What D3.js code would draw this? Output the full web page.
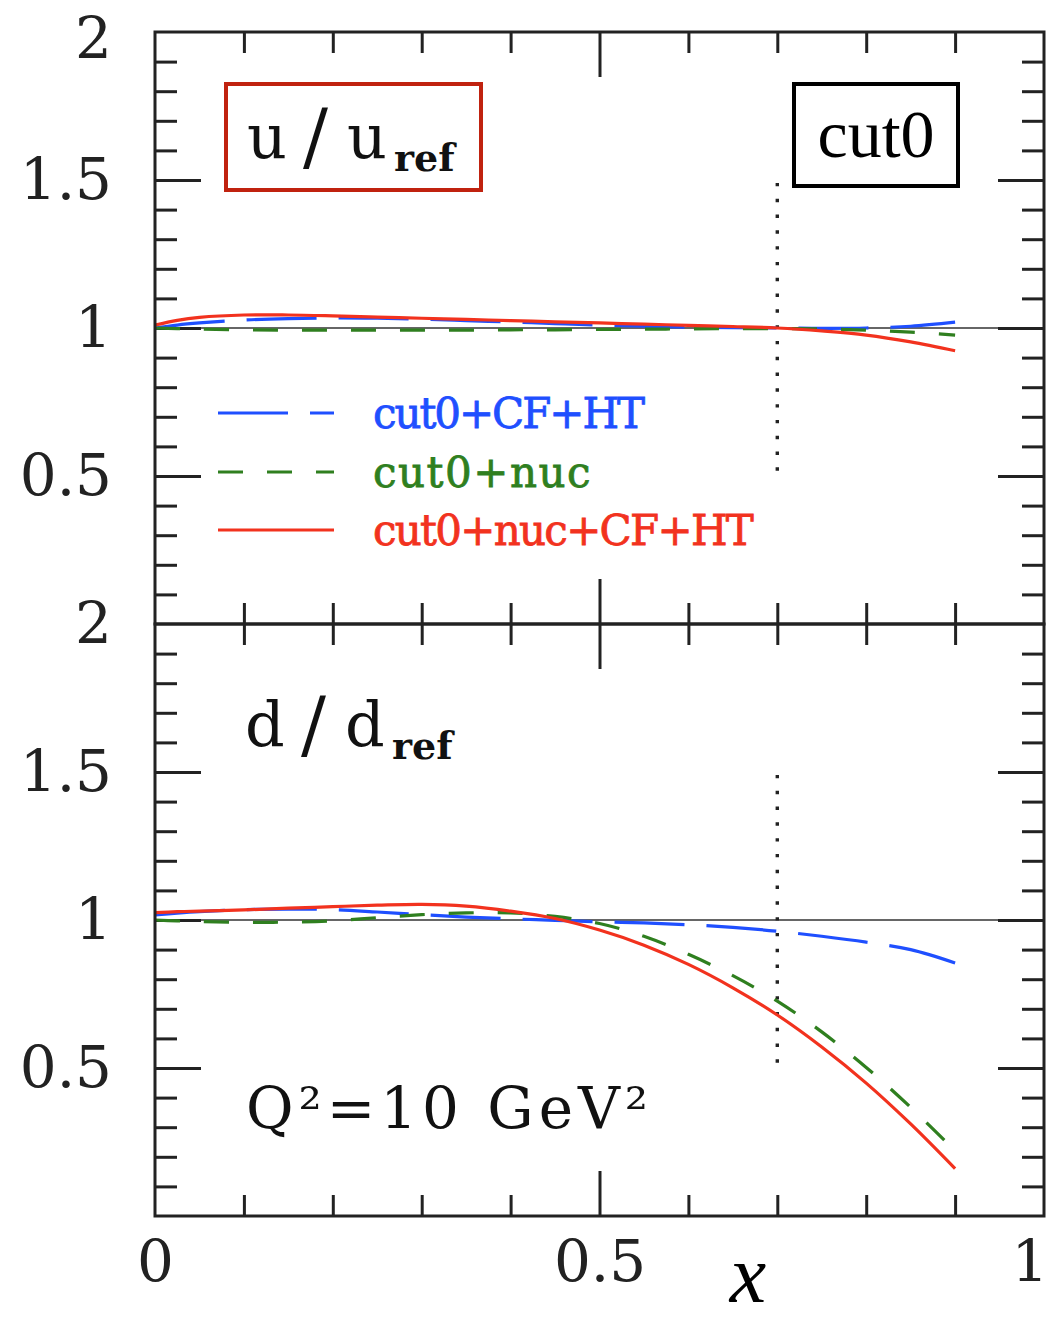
<!DOCTYPE html>
<html>
<head>
<meta charset="utf-8">
<script src="https://cdn.jsdelivr.net/npm/d3@7"></script>
<style>
  body { margin: 0; background: #fff; }
  svg { display: block; }
</style>
</head>
<body>
<div id="chart"></div>
<script>
// x grid shared by all curves
const xs = [0, 0.025, 0.05, 0.1, 0.15, 0.2, 0.25, 0.3, 0.35, 0.4, 0.45, 0.5, 0.55, 0.6, 0.65, 0.7, 0.75, 0.8, 0.85, 0.9];

// u / u_ref
const uCFHT    = [1.0, 1.01, 1.017, 1.027, 1.032, 1.034, 1.033, 1.03, 1.025, 1.02, 1.015, 1.01, 1.006, 1.003, 1.001, 1.0, 0.999, 1.0, 1.006, 1.02];
const uNuc     = [1.0, 0.998, 0.996, 0.994, 0.993, 0.993, 0.993, 0.993, 0.993, 0.994, 0.994, 0.995, 0.996, 0.997, 0.998, 0.998, 0.997, 0.993, 0.986, 0.976];
const uNucCFHT = [1.01, 1.026, 1.036, 1.044, 1.044, 1.041, 1.037, 1.033, 1.029, 1.025, 1.021, 1.017, 1.013, 1.009, 1.005, 1.0, 0.99, 0.976, 0.953, 0.923];

// d / d_ref
const dCFHT    = [1.017, 1.023, 1.028, 1.035, 1.037, 1.035, 1.027, 1.018, 1.01, 1.004, 0.999, 0.994, 0.99, 0.984, 0.975, 0.962, 0.945, 0.925, 0.9, 0.855];
const dNuc     = [1.0, 0.997, 0.995, 0.992, 0.993, 0.997, 1.008, 1.018, 1.024, 1.024, 1.012, 0.988, 0.945, 0.884, 0.812, 0.726, 0.622, 0.502, 0.367, 0.22];
const dNucCFHT = [1.025, 1.028, 1.03, 1.034, 1.04, 1.045, 1.05, 1.053, 1.047, 1.03, 1.005, 0.966, 0.915, 0.85, 0.771, 0.679, 0.571, 0.449, 0.311, 0.16];

const seriesNames = ["cut0+CF+HT", "cut0+nuc", "cut0+nuc+CF+HT"];
const seriesColors = ["#1f4fff", "#2f7f1f", "#f2321e"];
const seriesDash = ["70,22", "25,24", null];

const xMajor = [0, 0.5, 1];
const xMajorLabels = ["0", "0.5", "1"];
const yMajor = [0.5, 1, 1.5, 2];
const yMajorLabels = ["0.5", "1", "1.5", "2"];
const xCut = 0.7;          // dotted line
const cutRange = [0.49, 1.49];

const W = 1049, H = 1322;
const padL = 155, padR = 1044, padT = 32, padMid = 624, padB = 1216;

const svg = d3.select("#chart").append("svg")
    .attr("width", W).attr("height", H);

const x = d3.scaleLinear().domain([0, 1]).range([padL, padR]);
const yTop = d3.scaleLinear().domain([0, 2]).range([padMid, padT]);
const yBot = d3.scaleLinear().domain([0, 2]).range([padB, padMid]);

const xMinor = d3.range(1, 10).map(i => i / 10).filter(v => v !== 0.5);
const yMinor = d3.range(1, 20).map(i => i / 10).filter(v => !yMajor.includes(v));

const ink = "#222";
const serif = "'DejaVu Serif', serif";

function styleAxis(g) {
    g.select(".domain").remove();
    g.selectAll(".tick line").attr("stroke", ink).attr("stroke-width", 3);
    g.selectAll(".tick text").attr("fill", ink).attr("font-family", serif).attr("font-size", 58);
}

function drawPanel(y, ySeries, isBottom) {
    const g = svg.append("g");
    const y0 = y.range()[0], y1 = y.range()[1];

    // y = 1 reference line
    g.append("line")
        .attr("x1", x(0)).attr("x2", x(1))
        .attr("y1", y(1)).attr("y2", y(1))
        .attr("stroke", "#333").attr("stroke-width", 1.5);

    // left / right ticks
    g.append("g").attr("transform", `translate(${padL},0)`)
        .call(d3.axisLeft(y).tickValues(yMinor).tickSize(-22).tickSizeOuter(0).tickFormat(""))
        .call(styleAxis);
    const yl = g.append("g").attr("transform", `translate(${padL},0)`)
        .call(d3.axisLeft(y).tickValues(yMajor).tickSize(-46).tickSizeOuter(0).tickPadding(43)
            .tickFormat((d, i) => yMajorLabels[i]))
        .call(styleAxis);
    yl.selectAll(".tick").filter(d => d === 2).select("line").remove();
    if (!isBottom) {
        yl.selectAll(".tick").filter(d => d === 2).select("text").attr("y", 7);
    }
    g.append("g").attr("transform", `translate(${padR},0)`)
        .call(d3.axisRight(y).tickValues(yMinor).tickSize(-22).tickSizeOuter(0).tickFormat(""))
        .call(styleAxis);
    g.append("g").attr("transform", `translate(${padR},0)`)
        .call(d3.axisRight(y).tickValues(yMajor.filter(v => v < 2)).tickSize(-46).tickSizeOuter(0).tickFormat(""))
        .call(styleAxis);

    // top / bottom ticks
    g.append("g").attr("transform", `translate(0,${y1})`)
        .call(d3.axisTop(x).tickValues(xMinor).tickSize(-21).tickSizeOuter(0).tickFormat(""))
        .call(styleAxis);
    g.append("g").attr("transform", `translate(0,${y1})`)
        .call(d3.axisTop(x).tickValues([0.5]).tickSize(-45).tickSizeOuter(0).tickFormat(""))
        .call(styleAxis);
    g.append("g").attr("transform", `translate(0,${y0})`)
        .call(d3.axisBottom(x).tickValues(xMinor).tickSize(-21).tickSizeOuter(0).tickFormat(""))
        .call(styleAxis);
    const xb = g.append("g").attr("transform", `translate(0,${y0})`)
        .call(d3.axisBottom(x).tickValues(isBottom ? xMajor : [0.5]).tickSize(-45).tickSizeOuter(0)
            .tickPadding(24).tickFormat((d, i) => isBottom ? xMajorLabels[i] : ""))
        .call(styleAxis);
    xb.selectAll(".tick").filter(d => d === 0 || d === 1).select("line").remove();
    // the "1" label sits against the right edge of the picture
    xb.selectAll(".tick").filter(d => d === 1).select("text")
        .attr("text-anchor", "end").attr("x", W - 1 - x(1));

    // dotted cut line
    g.append("line")
        .attr("x1", x(xCut)).attr("x2", x(xCut))
        .attr("y1", y(cutRange[1])).attr("y2", y(cutRange[0]))
        .attr("stroke", "#222").attr("stroke-width", 3.4)
        .attr("stroke-dasharray", "3.4,12.4");

    // curves
    const line = d3.line()
        .x((d, i) => x(xs[i]))
        .y(d => y(d))
        .curve(d3.curveCatmullRom.alpha(0.5));

    ySeries.forEach((vals, k) => {
        g.append("path")
            .datum(vals)
            .attr("d", line)
            .attr("fill", "none")
            .attr("stroke", seriesColors[k])
            .attr("stroke-width", 3.2)
            .attr("stroke-dasharray", seriesDash[k]);
    });

    // frame
    g.append("rect")
        .attr("x", padL).attr("y", y1)
        .attr("width", padR - padL).attr("height", y0 - y1)
        .attr("fill", "none").attr("stroke", ink).attr("stroke-width", 3);

    return g;
}

const gTop = drawPanel(yTop, [uCFHT, uNuc, uNucCFHT], false);
const gBot = drawPanel(yBot, [dCFHT, dNuc, dNucCFHT], true);

// u / u_ref and d / d_ref labels
function ratioLabel(g, tx, ty, letter) {
    const t = g.append("text")
        .attr("x", tx).attr("y", ty)
        .attr("font-family", serif).attr("font-size", 62).attr("fill", "#111");
    t.append("tspan").text(letter);
    t.append("tspan").attr("x", tx + 56).attr("font-size", 74).attr("dy", 4).text("/");
    t.append("tspan").attr("x", tx + 100).attr("dy", -4).text(letter);
    t.append("tspan").attr("x", tx + 147).attr("dy", 13).attr("font-size", 38).attr("font-weight", "bold").text("ref");
}
gTop.append("rect")
    .attr("x", 226).attr("y", 84).attr("width", 255).attr("height", 106)
    .attr("fill", "none").attr("stroke", "#c0220f").attr("stroke-width", 4);
ratioLabel(gTop, 247, 158, "u");
ratioLabel(gBot, 245, 746, "d");

// cut0 box
gTop.append("rect")
    .attr("x", 794).attr("y", 84).attr("width", 164).attr("height", 102)
    .attr("fill", "none").attr("stroke", "#000").attr("stroke-width", 4);
gTop.append("text")
    .attr("x", 876).attr("y", 157)
    .attr("text-anchor", "middle")
    .attr("font-family", "'Liberation Serif', 'Times New Roman', serif")
    .attr("font-size", 68).attr("fill", "#000")
    .text("cut0");

// legend
const legendY = [413, 472, 530];
seriesNames.forEach((name, k) => {
    gTop.append("line")
        .attr("x1", 218).attr("x2", 334)
        .attr("y1", legendY[k]).attr("y2", legendY[k])
        .attr("stroke", seriesColors[k]).attr("stroke-width", 3)
        .attr("stroke-dasharray", seriesDash[k]);
    gTop.append("text")
        .attr("x", 373).attr("y", legendY[k] + 15)
        .attr("font-family", serif).attr("font-size", 42)
        .attr("fill", seriesColors[k])
        .attr("stroke", seriesColors[k]).attr("stroke-width", 0.8)
        .attr("textLength", name.length * 27.2)
        .attr("lengthAdjust", "spacing")
        .text(name);
});

// Q^2 label
gBot.append("text")
    .attr("x", 246).attr("y", 1128)
    .attr("font-family", serif).attr("font-size", 58).attr("fill", "#111")
    .attr("textLength", 402).attr("lengthAdjust", "spacing")
    .text("Q²=10  GeV²");

// x axis title
svg.append("text")
    .attr("x", 748).attr("y", 1302)
    .attr("text-anchor", "middle")
    .attr("font-family", "'Liberation Serif', 'Times New Roman', serif")
    .attr("font-style", "italic").attr("font-size", 82).attr("fill", "#000")
    .text("x");
</script>
</body>
</html>
